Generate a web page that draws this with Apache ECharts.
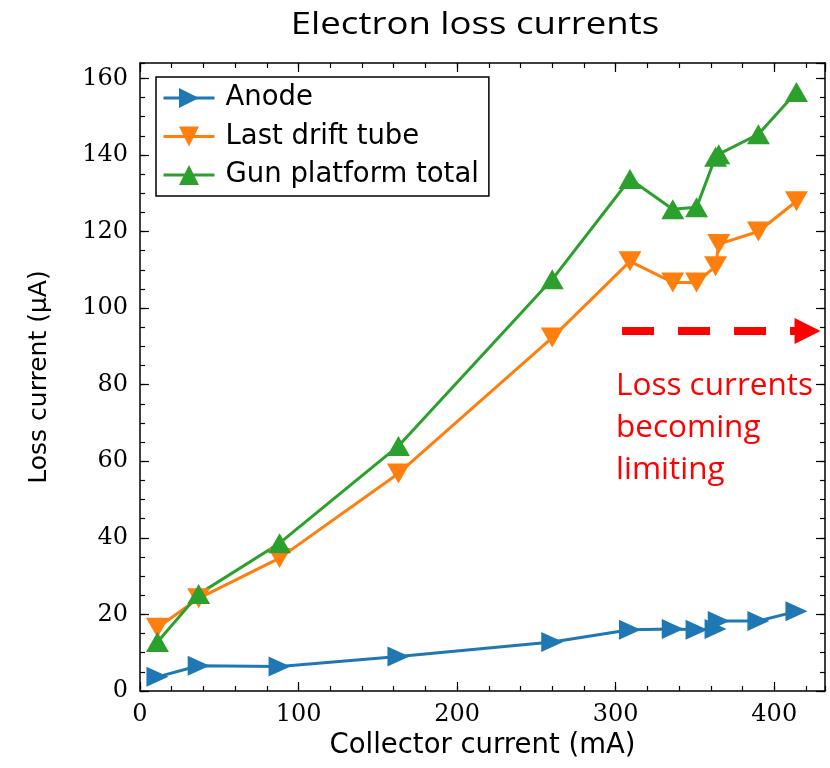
<!DOCTYPE html>
<html>
<head>
<meta charset="utf-8">
<script src="https://cdn.jsdelivr.net/npm/echarts@6/dist/echarts.min.js"></script>
<style>
  html, body { margin: 0; padding: 0; background: #fff; }
  #chart { width: 830px; height: 768px; }
</style>
</head>
<body>
<div id="chart"></div>
<script>
// values
const collector = [11, 37, 88, 163, 260, 309, 336, 351, 363, 365, 390, 414]
const anode = [3.7, 6.6, 6.4, 9.0, 12.8, 16.0, 16.2, 16.0, 16.2, 18.3, 18.3, 20.8]
const driftTube = [16.5, 24.2, 34.7, 56.8, 92.3, 112.2, 106.7, 106.7, 110.9, 116.7, 120.0, 127.9]
const gunTotal = [12.8, 25.3, 38.6, 64.0, 107.5, 133.7, 125.8, 126.3, 139.5, 140.2, 145.4, 156.4]
const seriesNames = ['Anode', 'Last drift tube', 'Gun platform total']
// annotation arrow: start / end in data units
const arrowFrom = [304, 94]
const arrowTo = [421, 94]

const xRange = [0, 432]
const yRange = [0, 164]

const chart = echarts.init(document.getElementById('chart'))

const pairs = (ys) => ys.map((y, i) => [collector[i], y])

const labelFont = { fontFamily: 'DejaVu Serif', fontSize: 24, color: '#000' }
const sansFont = 'DejaVu Sans'

// four x axes / four y axes: major + minor ticks on every side, pointing inward
function axis(range, pos, step, tickLen, labels, line) {
  return {
    type: 'value', position: pos, min: range[0], max: range[1], interval: step,
    axisLine: { show: line, onZero: false, lineStyle: { color: '#000', width: 1.5 } },
    axisTick: { show: true, inside: true, length: tickLen, lineStyle: { color: '#000', width: 1.2 } },
    axisLabel: labels ? Object.assign({ show: true, margin: 12, showMaxLabel: false }, labelFont) : { show: false },
    splitLine: { show: false }
  }
}

const xAxes = [
  axis(xRange, 'bottom', 100, 9, true, true),
  axis(xRange, 'bottom', 20, 5, false, false),
  axis(xRange, 'top', 100, 9, false, true),
  axis(xRange, 'top', 20, 5, false, false)
]
xAxes[0].name = 'Collector current (mA)'
xAxes[0].nameLocation = 'middle'
xAxes[0].nameGap = 41
xAxes[0].nameTextStyle = { fontFamily: sansFont, fontSize: 27.5, color: '#000' }

const yAxes = [
  axis(yRange, 'left', 20, 9, true, true),
  axis(yRange, 'left', 5, 5, false, false),
  axis(yRange, 'right', 20, 9, false, true),
  axis(yRange, 'right', 5, 5, false, false)
]
yAxes[0].name = 'Loss current (µA)'
yAxes[0].nameLocation = 'middle'
yAxes[0].nameGap = 88
yAxes[0].nameRotate = 90
yAxes[0].nameTextStyle = { fontFamily: sansFont, fontSize: 25, color: '#000' }

const colors = ['#1f77b4', '#ff7f0e', '#2ca02c']
const symbols = ['path://M0,0L10,5L0,10Z', 'path://M0,0L10,0L5,10Z', 'triangle']
const sizes = [[22, 20], [23, 20], [23, 20]]
const values = [anode, driftTube, gunTotal]

const series = values.map((v, i) => ({
  name: seriesNames[i],
  type: 'line',
  data: pairs(v),
  symbol: symbols[i],
  symbolSize: sizes[i],
  showAllSymbol: true,
  lineStyle: { color: colors[i], width: 3 },
  itemStyle: { color: colors[i] },
  emphasis: { disabled: true },
  animation: false
}))

// red dashed arrow annotation
series.push({
  type: 'line',
  data: [],
  silent: true,
  animation: false,
  markLine: {
    silent: true,
    animation: false,
    symbol: ['none', 'triangle'],
    symbolSize: 26,
    label: { show: false },
    lineStyle: { color: '#ff0000', width: 8, type: [32, 24], opacity: 1 },
    emphasis: { disabled: true },
    data: [[{ coord: arrowFrom }, { coord: arrowTo }]]
  }
})

const option = {
  backgroundColor: '#fff',
  grid: { left: 140, right: 5, top: 63, bottom: 77, containLabel: false },
  legend: {
    data: seriesNames,
    orient: 'vertical',
    left: 156,
    top: 77,
    padding: [7, 10, 7, 6],
    itemWidth: 51,
    itemHeight: 25,
    itemGap: 10.5,
    borderColor: '#000',
    borderWidth: 1.5,
    borderRadius: 0,
    backgroundColor: '#fff',
    lineStyle: { width: 3 },
    textStyle: { fontFamily: sansFont, fontSize: 27.5, lineHeight: 25, color: '#000', padding: [0, 0, 0, 6] },
    selectedMode: false
  },
  xAxis: xAxes,
  yAxis: yAxes,
  series: series,
  graphic: [{
    // title, slightly stretched horizontally like the source slide
    type: 'text',
    x: 475,
    y: 25,
    scaleX: 1.18,
    style: {
      text: 'Electron loss currents',
      fill: '#000',
      font: '31px "Open Sans"',
      align: 'center',
      verticalAlign: 'middle'
    }
  }, {
    type: 'text',
    left: 616,
    top: 365,
    style: {
      text: 'Loss currents\nbecoming\nlimiting',
      fill: '#ff0000',
      font: '31.5px "Open Sans"',
      lineHeight: 42
    }
  }]
}

chart.setOption(option)
</script>
</body>
</html>
